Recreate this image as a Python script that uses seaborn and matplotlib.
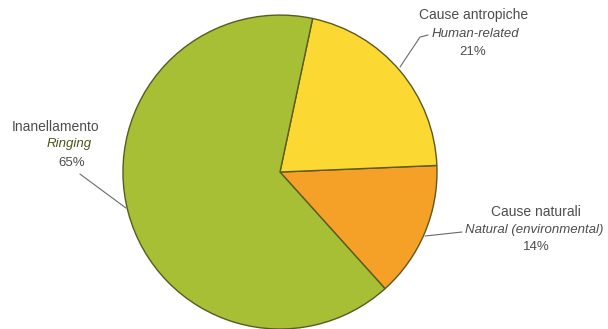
import matplotlib
matplotlib.use("Agg")
import matplotlib.pyplot as plt
import seaborn as sns

# Share of causes (percent)
categories = ["Cause naturali", "Cause antropiche", "Inanellamento"]
english = ["Natural (environmental)", "Human-related", "Ringing"]
shares = [14, 21, 65]
colors = ["#f5a027", "#fbd832", "#a6bf35"]

sns.set_theme(style="white")
plt.rcParams["font.family"] = ["Liberation Sans", "DejaVu Sans"]

fig = plt.figure(figsize=(6.08, 3.29), dpi=100)
ax = fig.add_axes([0, 0, 1, 1])
ax.pie(shares, colors=colors, startangle=-48, counterclock=True, radius=1.0,
       wedgeprops=dict(edgecolor="#5b5a22", linewidth=1.0))
ax.set_xlim(-1.783, 2.089)
ax.set_ylim(-1.0, 1.096)
ax.set_aspect("auto")
ax.axis("off")

cx, cy, r = 280.0, 172.0, 157.0


def u(px, py):
    return ((px - cx) / r, (cy - py) / r)


txt = "#4d4d4d"
line = "#6a6a6a"

# Natural causes
ax.text(*u(536, 212), categories[0], ha="center", va="center", fontsize=10, color=txt)
ax.text(*u(534, 230), english[0], ha="center", va="center", fontsize=9.5,
        style="italic", color=txt)
ax.text(*u(536, 247), f"{shares[0]}%", ha="center", va="center", fontsize=9.5, color=txt)
ax.plot(*zip(u(425, 236), u(462, 232)), color=line, lw=0.8)

# Human-related causes
ax.text(*u(474, 15), categories[1], ha="center", va="center", fontsize=10, color=txt)
ax.text(*u(475, 34), english[1], ha="center", va="center", fontsize=9.5,
        style="italic", color=txt)
ax.text(*u(473, 52), f"{shares[1]}%", ha="center", va="center", fontsize=9.5, color=txt)
ax.plot(*zip(u(400, 67), u(420, 37), u(428, 35)), color=line, lw=0.8)

# Ringing
ax.text(*u(56, 127), categories[2], ha="center", va="center", fontsize=10, color=txt)
ax.text(*u(69, 144), english[2], ha="center", va="center", fontsize=9.5,
        style="italic", color="#4a5518")
ax.text(*u(72, 163), f"{shares[2]}%", ha="center", va="center", fontsize=9.5, color=txt)
ax.plot(*zip(u(80, 174), u(126, 208)), color=line, lw=0.8)

fig.savefig("out.png", dpi=100)
